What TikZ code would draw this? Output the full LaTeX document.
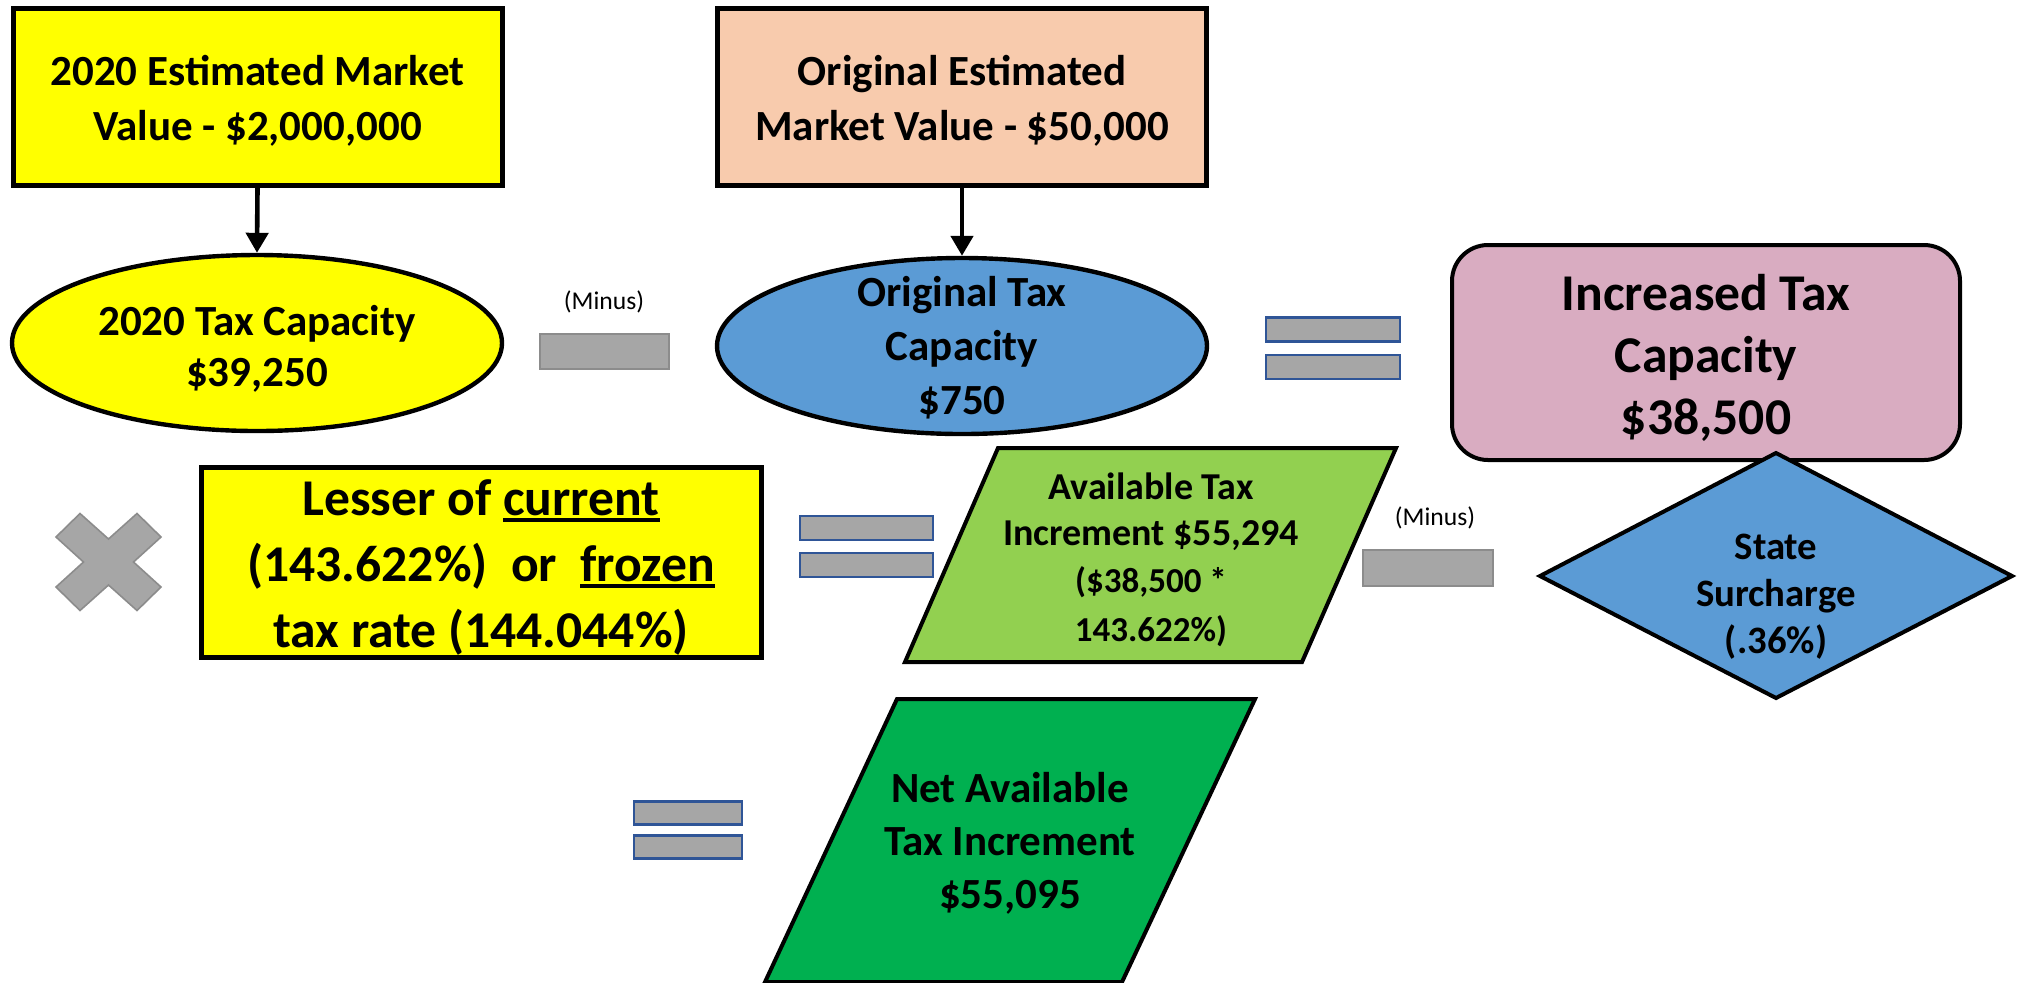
\documentclass[tikz,border=0pt]{standalone}
\usepackage{fontspec}
\setmainfont{Carlito}
\usetikzlibrary{shapes.geometric,arrows.meta}

\definecolor{boxyellow}{HTML}{FFFF00}
\definecolor{peach}{HTML}{F8CBAD}
\definecolor{skyblue}{HTML}{5B9BD5}
\definecolor{mauve}{HTML}{D9ACC1}
\definecolor{lightgreen}{HTML}{92D050}
\definecolor{darkgreen}{HTML}{00B050}
\definecolor{opgray}{HTML}{A6A6A6}
\definecolor{opedge}{HTML}{8C8C8C}
\definecolor{eqedge}{HTML}{2F5597}

% thick underline used for the emphasised words
\newcommand{\thickul}[1]{\leavevmode\setbox0\hbox{#1}\rlap{\rule[-3pt]{\wd0}{2pt}}\box0}

\begin{document}
\begin{tikzpicture}[x=0.5pt,y=-0.5pt,
  valuebox/.style={draw, line width=2.5pt, inner sep=0pt, minimum width=244.5pt,
    minimum height=88.5pt},
  valuetext/.style={align=center, inner sep=0pt, font=\bfseries\fontsize{21.5}{27.5}\selectfont},
  capellipse/.style={ellipse, draw, line width=2.2pt, inner sep=0pt,
    minimum width=245pt, minimum height=88pt},
  txt/.style={align=center, inner sep=0pt},
  opbar/.style={fill=opgray, draw=opedge, line width=0.8pt, inner sep=0pt,
    minimum width=64.5pt, minimum height=17.5pt},
  eqbar/.style={fill=opgray, draw=eqedge, line width=1.2pt, inner sep=0pt,
    minimum height=12pt},
  minuslabel/.style={inner sep=0pt, font=\fontsize{12.8}{15}\selectfont},
  flowarrow/.style={-{Triangle[width=11pt,length=10pt]}, line width=2.3pt},
  shapeline/.style={line width=2pt, line join=miter}
]
\useasboundingbox (0,0) rectangle (2017,982);

% ---- top row: market values ----
\node[valuebox, fill=boxyellow] (mv2020) at (257.5,97) {};
\node[valuetext] (mv2020t) at (257.5,101) {2020 Estimated Market\\Value - \$2,000,000};
\node[valuebox, fill=peach] (mvorig) at (962,97) {};
\node[valuetext] (mvorigt) at (962,101) {Original Estimated\\Market Value - \$50,000};

% ---- tax capacities ----
\node[capellipse, fill=boxyellow] (tc2020) at (257,343) {};
\node[txt, font=\bfseries\fontsize{21.5}{25.5}\selectfont] (tc2020t) at (257,349) {2020 Tax Capacity\\\$39,250};
\node[capellipse, fill=skyblue] (tcorig) at (962,346) {};
\node[txt, font=\bfseries\fontsize{21.5}{27}\selectfont] (tcorigt) at (962,348) {Original Tax\\Capacity\\\$750};

\draw[flowarrow] (mv2020.south) -- (tc2020.north);
\draw[flowarrow] (mvorig.south) -- (tcorig.north);

% minus between the capacities
\node[minuslabel] (minusA) at (604,302) {(Minus)};
\node[opbar] (opA) at (604.5,351.5) {};

% equals sign
\node[eqbar, minimum width=67pt] (eqA1) at (1333,329.5) {};
\node[eqbar, minimum width=67pt] (eqA2) at (1333,367) {};

% increased tax capacity
\node[draw, line width=2pt, fill=mauve, rounded corners=18pt, inner sep=0pt,
  minimum width=254pt, minimum height=107.5pt] (tcinc) at (1706,352.5) {};
\node[txt, font=\bfseries\fontsize{25.8}{31}\selectfont] (tcinct) at (1706,357.5)
  {Increased Tax\\Capacity\\\$38,500};

% ---- second row ----
\filldraw[fill=opgray, draw=opedge, line width=0.8pt]
  (56,537) -- (80,513.5) -- (108.5,539) -- (137,513.5) -- (161,537) -- (133.5,562)
  -- (161,587) -- (137,610.5) -- (108.5,585) -- (80,610.5) -- (56,587) -- (83.5,562) -- cycle;

\node[draw, line width=2.5pt, fill=boxyellow, inner sep=0pt, minimum width=280pt,
  minimum height=95pt] (rate) at (481,562) {};
\node[txt, font=\bfseries\fontsize{25.8}{32.8}\selectfont] (ratet) at (481,567.5)
  {Lesser of \thickul{current}\\(143.622\%)\ \ or\ \ \thickul{frozen}\\tax rate (144.044\%)};

\node[eqbar, minimum width=66.5pt] (eqB1) at (866.5,528) {};
\node[eqbar, minimum width=66.5pt] (eqB2) at (866.5,565) {};

\filldraw[fill=lightgreen, shapeline] (998,448) -- (1396,448) -- (1302,662) -- (905,662) -- cycle;
\node[txt, font=\bfseries\fontsize{19}{23}\selectfont] (availA) at (1151,512) {Available Tax\\Increment \$55,294};
\node[txt, font=\bfseries\fontsize{17.5}{24.5}\selectfont] (availB) at (1151,607) {(\$38,500 *\\143.622\%)};

\node[minuslabel] (minusB) at (1435,518) {(Minus)};
\node[opbar, minimum width=65pt, minimum height=18pt] (opB) at (1428,568) {};

\filldraw[fill=skyblue, shapeline] (1776,453) -- (2012,576) -- (1776,698) -- (1540,576) -- cycle;
\node[txt, font=\bfseries\fontsize{19.4}{23.5}\selectfont] (surcharge) at (1776,597) {State\\Surcharge\\(.36\%)};

% ---- result ----
\node[eqbar, minimum width=54pt, minimum height=11.5pt] (eqC1) at (688,813) {};
\node[eqbar, minimum width=54pt, minimum height=11.5pt] (eqC2) at (688,847) {};

\filldraw[fill=darkgreen, shapeline] (897,699) -- (1255,699) -- (1122,982) -- (765,982) -- cycle;
\node[txt, font=\bfseries\fontsize{21.5}{26.5}\selectfont] (net) at (1010,843) {Net Available\\Tax Increment\\\$55,095};
\end{tikzpicture}
\end{document}
